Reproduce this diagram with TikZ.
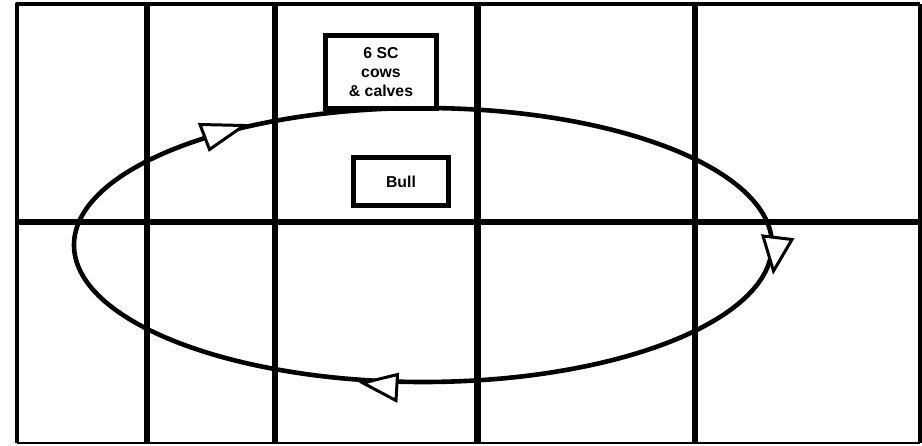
\documentclass[tikz,border=0pt]{standalone}
\usepackage{fontspec}
\setmainfont{Liberation Sans}
\begin{document}
\begin{tikzpicture}[x=1pt,y=-1pt,
  gridline/.style={line width=5.5pt},
  boxnode/.style={draw, line width=4.8pt, fill=white, align=center,
    font=\bfseries\fontsize{15.8}{18.8}\selectfont, inner sep=0pt},
  cyclepath/.style={line width=4.6pt},
  headtri/.style={draw, fill=white, line width=3pt, line join=miter}]
\useasboundingbox (0,0) rectangle (922,446);
\fill[white] (0,0) rectangle (922,446);
% grid
\draw[gridline] (147,4) -- (147,443);
\draw[gridline] (275,4) -- (275,443);
\draw[gridline, line width=7pt] (477,4) -- (477,443);
\draw[gridline] (695,4) -- (695,443);
\draw[gridline, line width=5.5pt] (17,222) -- (920,222);
\draw[line width=4.5pt, line join=round] (17,443) -- (17,4) -- (920,4);
\draw[line width=3.5pt] (920,4) -- (920,443);
\draw[line width=2pt] (17,443) -- (920,443);
% cycle
\draw[cyclepath] (423,245) ellipse [x radius=349, y radius=137];
% boxes
\node[boxnode, minimum width=111pt, minimum height=73pt] (cows) at (381,72) {6 SC\\cows\\\& calves};
\node[boxnode, minimum width=95pt, minimum height=48pt] (bull) at (401,181.5) {Bull};
% arrowheads
\draw[headtri] (244,125.5) -- (200,124.5) -- (209.5,149.5) -- cycle;
\draw[headtri] (773.5,271) -- (763,236) -- (792,239.5) -- cycle;
\draw[headtri] (363,383) -- (397.5,374.5) -- (396,400.5) -- cycle;
\end{tikzpicture}
\end{document}
